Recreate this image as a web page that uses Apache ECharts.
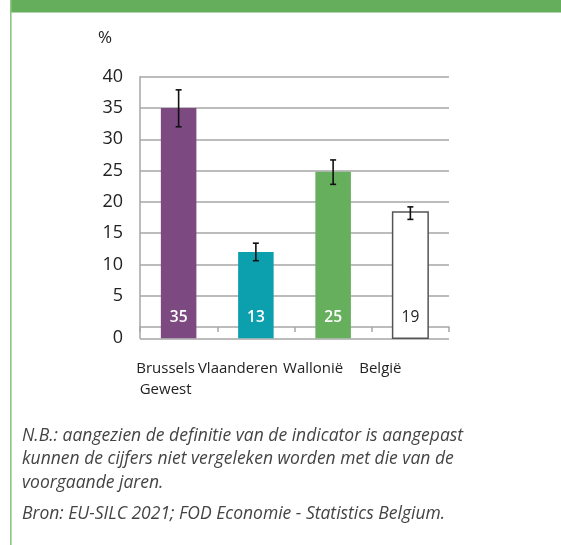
<!DOCTYPE html>
<html>
<head>
<meta charset="utf-8">
<script src="https://cdn.jsdelivr.net/npm/echarts@6/dist/echarts.min.js"></script>
<style>
  html, body { margin: 0; padding: 0; background: #fff; }
  #chart { width: 561px; height: 545px; }
</style>
</head>
<body>
<div id="chart"></div>
<script>
// categorieen en waarden
var categories = ['Brussels\nGewest', 'Vlaanderen', 'Wallonië', 'België'];
var barValues = [35, 12, 24.8, 18.4];
var barLabels = ['35', '13', '25', '19'];   // getoonde cijfers
var errLow = [32, 10.6, 22.8, 17.2];
var errHigh = [37.9, 13.4, 26.7, 19.2];
var barColors = ['#7c4a80', '#0ca0ae', '#65af5d', '#ffffff'];
var labelColors = ['#ffffff', '#ffffff', '#ffffff', '#222222'];
var yTicks = [0, 5, 10, 15, 20, 25, 30, 35, 40];
var notes = [
  'N.B.: aangezien de definitie van de indicator is aangepast',
  'kunnen de cijfers niet vergeleken worden met die van de',
  'voorgaande jaren.',
  'Bron: EU-SILC 2021; FOD Economie - Statistics Belgium.'
];

// de nul-lijn staat lager dan de schaal van de rest
var Y_MIN = -1.8;
var FONT = '"Open Sans", sans-serif';

var chart = echarts.init(document.getElementById('chart'), null, { renderer: 'canvas' });

var tickPos = yTicks.map(function (t) { return t === 0 ? Y_MIN : t; });

var barData = barValues.map(function (v, i) { return [i, v]; });
var errData = errLow.map(function (v, i) { return [i, v, errHigh[i]]; });

// labels staan iets links van het midden, per categorie anders
var labelShift = [13, 18, 20, 30];
var richLabels = {};
labelShift.forEach(function (s, i) {
  richLabels['c' + i] = {
    color: '#222', fontFamily: FONT, fontSize: 15, lineHeight: 21,
    padding: [0, s * 2, 0, 0]
  };
});

function renderBar(params, api) {
  var i = api.value(0);
  var top = api.coord([i, api.value(1)]);
  var bottom = api.coord([i, Y_MIN]);
  var w = api.size([1, 0])[0] * 0.46;
  var isWhite = barColors[i] === '#ffffff';
  return {
    type: 'group',
    children: [{
      type: 'rect',
      shape: { x: top[0] - w / 2, y: top[1], width: w, height: bottom[1] - top[1] },
      style: {
        fill: barColors[i],
        stroke: isWhite ? '#555555' : null,
        lineWidth: isWhite ? 1.5 : 0
      }
    }, {
      type: 'text',
      style: {
        x: top[0], y: bottom[1] - 21,
        text: barLabels[i],
        fill: labelColors[i],
        font: (isWhite ? 'normal' : '600') + ' 15.5px ' + FONT,
        align: 'center',
        verticalAlign: 'middle'
      }
    }]
  };
}

function renderErr(params, api) {
  var i = api.value(0);
  var lo = api.coord([i, api.value(1)]);
  var hi = api.coord([i, api.value(2)]);
  var cap = 3;
  var st = { stroke: '#111111', lineWidth: 1.6 };
  return {
    type: 'group',
    children: [
      { type: 'line', shape: { x1: lo[0], y1: lo[1], x2: hi[0], y2: hi[1] }, style: st },
      { type: 'line', shape: { x1: lo[0] - cap, y1: lo[1], x2: lo[0] + cap, y2: lo[1] }, style: st },
      { type: 'line', shape: { x1: hi[0] - cap, y1: hi[1], x2: hi[0] + cap, y2: hi[1] }, style: st }
    ]
  };
}

var noteY = [439, 462, 486, 517];
var graphics = [
  // groene balk bovenaan en lijn links
  { type: 'rect', shape: { x: 10, y: 0, width: 551, height: 12.5 }, style: { fill: '#65ae5c' } },
  { type: 'rect', shape: { x: 10, y: 0, width: 1.6, height: 545 }, style: { fill: '#8cc584' } },
  {
    type: 'text', left: 98, top: 30,
    style: { text: '%', font: '17px ' + FONT, fill: '#222' }
  }
];
notes.forEach(function (t, i) {
  graphics.push({
    type: 'text', left: 22, top: noteY[i] - 12,
    style: { text: t, font: 'italic 17.5px ' + FONT, fill: '#444444' }
  });
});

var option = {
  animation: false,
  grid: { left: 140, right: 112, top: 76.7, bottom: 206.7 },
  xAxis: {
    type: 'category',
    data: categories,
    axisLine: { lineStyle: { color: '#a6a6a6', width: 1.5 } },
    axisTick: { show: true, length: 5, lineStyle: { color: '#a6a6a6', width: 1.5 } },
    axisLabel: {
      interval: 0,
      hideOverlap: false,
      margin: 20,
      formatter: function (v, idx) {
        return v.split('\n').map(function (line) {
          return '{c' + idx + '|' + line + '}';
        }).join('\n');
      },
      rich: richLabels
    }
  },
  yAxis: {
    type: 'value',
    min: Y_MIN,
    max: 40,
    axisLine: { show: true, lineStyle: { color: '#a6a6a6', width: 1.5 } },
    axisTick: { show: false, customValues: tickPos },
    splitLine: { show: true, lineStyle: { color: '#a6a6a6', width: 1.5 } },
    axisLabel: {
      customValues: tickPos,
      margin: 17,
      color: '#222',
      fontFamily: FONT,
      fontSize: 18,
      formatter: function (v) {
        return v < 0 ? '0' : String(Math.round(v));
      }
    }
  },
  graphic: graphics,
  series: [{
    type: 'custom',
    renderItem: renderBar,
    data: barData,
    z: 3
  }, {
    type: 'custom',
    renderItem: renderErr,
    data: errData,
    z: 4
  }]
};

chart.setOption(option);
</script>
</body>
</html>
